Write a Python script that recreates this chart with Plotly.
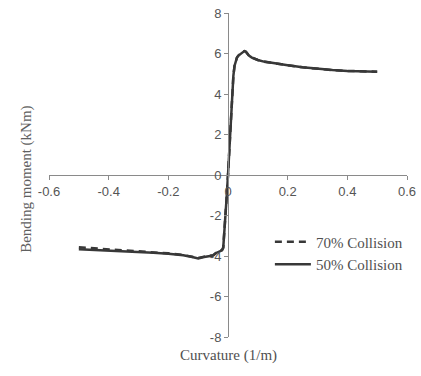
import plotly.graph_objects as go

# Curvature (1/m) and bending moment (kNm)
curv_50 = [-0.5, -0.45, -0.4, -0.35, -0.3, -0.25, -0.2, -0.15, -0.12, -0.1, -0.08,
           -0.06, -0.05, -0.04, -0.03, -0.02, -0.016, -0.01, -0.005, 0, 0.005, 0.01,
           0.015, 0.018, 0.022, 0.026, 0.03, 0.035, 0.04, 0.045, 0.05, 0.055, 0.06,
           0.065, 0.07, 0.08, 0.09, 0.1, 0.12, 0.15, 0.2, 0.25, 0.3, 0.35, 0.4, 0.45, 0.5]
moment_50 = [-3.67, -3.7, -3.73, -3.76, -3.8, -3.84, -3.89, -3.96, -4.05, -4.12, -4.05,
             -4.02, -3.98, -3.85, -3.78, -3.72, -3.6, -2.5, -1.2, 0, 1.4, 3.0,
             4.3, 4.9, 5.4, 5.65, 5.8, 5.9, 5.96, 6.02, 6.07, 6.12, 6.09,
             6.0, 5.9, 5.8, 5.73, 5.68, 5.6, 5.52, 5.42, 5.32, 5.24, 5.18, 5.14, 5.12, 5.1]

curv_70 = [-0.5, -0.45, -0.4, -0.35, -0.3, -0.25, -0.2, -0.15, -0.12, -0.1, -0.08,
           -0.06, -0.05, -0.04, -0.03, -0.02, -0.016, -0.01, -0.005, 0, 0.005, 0.01,
           0.015, 0.018, 0.022, 0.026, 0.03, 0.035, 0.04, 0.045, 0.05, 0.055, 0.06,
           0.065, 0.07, 0.08, 0.09, 0.1, 0.12, 0.15, 0.2, 0.25, 0.3, 0.35, 0.4, 0.45, 0.5]
moment_70 = [-3.57, -3.62, -3.66, -3.7, -3.75, -3.81, -3.87, -3.95, -4.04, -4.1, -4.03,
             -4.0, -3.96, -3.84, -3.77, -3.7, -3.58, -2.5, -1.2, 0, 1.4, 3.0,
             4.3, 4.9, 5.4, 5.65, 5.8, 5.9, 5.96, 6.02, 6.07, 6.12, 6.09,
             6.0, 5.9, 5.8, 5.73, 5.68, 5.6, 5.52, 5.42, 5.32, 5.24, 5.18, 5.14, 5.12, 5.1]

x_ticks = [-0.6, -0.4, -0.2, 0, 0.2, 0.4, 0.6]
x_tick_labels = ["-0.6", "-0.4", "-0.2", "0", "0.2", "0.4", "0.6"]
y_ticks = [-8, -6, -4, -2, 0, 2, 4, 6, 8]
y_tick_labels = ["-8", "-6", "-4", "-2", "0", "2", "4", "6", "8"]

line_color = "#383838"
tick_color = "#555555"
text_color = "#505050"
serif = "Liberation Serif"
sans = "Liberation Sans"

fig = go.Figure()
fig.add_trace(go.Scatter(x=curv_70, y=moment_70, mode="lines", name="70% Collision",
                         line=dict(color=line_color, width=2.5, dash="7px,5px")))
fig.add_trace(go.Scatter(x=curv_50, y=moment_50, mode="lines", name="50% Collision",
                         line=dict(color=line_color, width=2.5)))

axis_common = dict(showgrid=False, zeroline=False, showline=True, linecolor="#8a8a8a",
                   linewidth=1, ticks="outside", ticklen=4, tickcolor="#8a8a8a",
                   automargin=False, ticklabeloverflow="allow",
                   tickfont=dict(family=sans, size=13, color=tick_color))

fig.update_layout(
    width=421, height=376,
    margin=dict(l=49, r=14, t=13, b=39, autoexpand=False),
    paper_bgcolor="white", plot_bgcolor="white",
    font=dict(family=serif, color=text_color, size=15),
    xaxis=dict(range=[-0.6, 0.6], tickvals=x_ticks, ticktext=x_tick_labels,
               anchor="free", position=0.5, **axis_common),
    yaxis=dict(range=[-8, 8], tickvals=y_ticks, ticktext=y_tick_labels,
               anchor="free", position=0.5, **axis_common),
    legend=dict(x=0.617, y=0.344, xanchor="left", yanchor="top",
                bgcolor="rgba(0,0,0,0)", font=dict(family=serif, size=15, color=text_color),
                tracegroupgap=0, itemwidth=36),
    showlegend=True,
)

fig.add_annotation(text="Bending moment (kNm)", xref="paper", yref="paper",
                   x=-0.0615, y=0.488, xanchor="center", yanchor="middle",
                   textangle=-90, showarrow=False,
                   font=dict(family=serif, size=15, color="#606060"))
fig.add_annotation(text="Curvature (1/m)", xref="paper", yref="paper",
                   x=0.5, y=-0.058, xanchor="center", yanchor="middle", showarrow=False,
                   font=dict(family=serif, size=15, color=text_color))

fig.write_html("out.html", config={"displayModeBar": False},
               post_script="document.body.style.margin='0px';")
